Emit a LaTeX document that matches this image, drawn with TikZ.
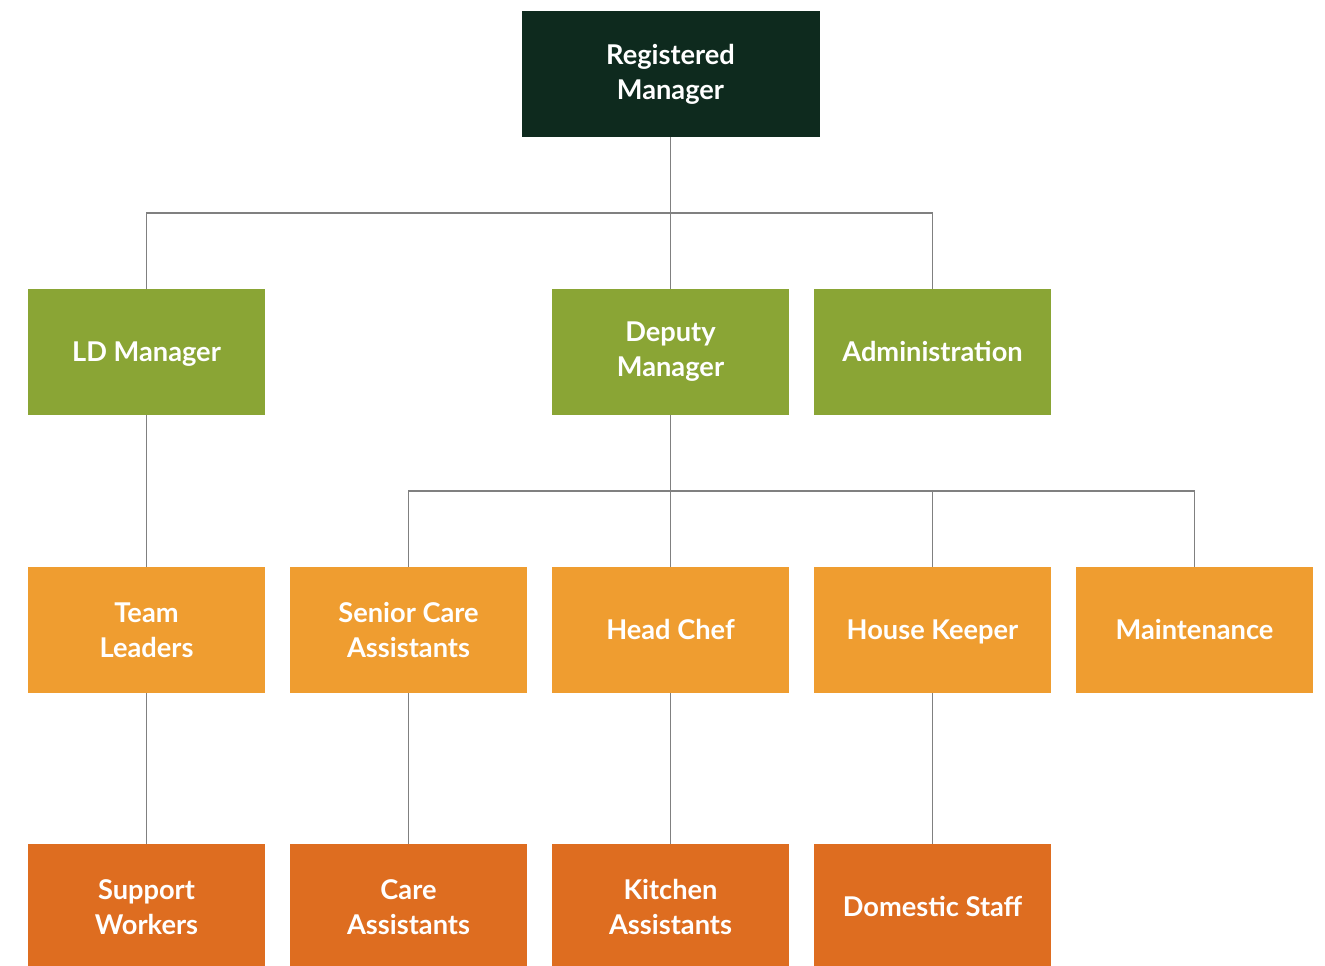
\documentclass[tikz,border=0pt]{standalone}
\usepackage{fontspec}
\setmainfont{Lato}
\usepackage{xcolor}
\usetikzlibrary{positioning, calc}
\definecolor{topgreen}{RGB}{14, 42, 30}
\definecolor{olive}{RGB}{138, 165, 53}
\definecolor{lightorange}{RGB}{239, 157, 48}
\definecolor{darkorange}{RGB}{222, 109, 32}
\definecolor{linkgray}{RGB}{128, 128, 128}

\tikzset{
    box/.style={minimum width=237*0.02cm, minimum height=126*0.02cm, inner sep=0pt,
        align=center, text=white, font=\bfseries\fontsize{15.5}{20}\selectfont},
    oneline/.style={text height=11.2pt, text depth=0pt},
    topbox/.style={box, fill=topgreen, minimum width=298*0.02cm},
    midbox/.style={box, fill=olive},
    staffbox/.style={box, fill=lightorange},
    lowbox/.style={box, fill=darkorange},
    link/.style={linkgray, line width=0.85pt}
}

\begin{document}
\begin{tikzpicture}[x=0.02cm, y=-0.02cm]
        \useasboundingbox (0,0) rectangle (1325,965);

        % top
        \node[topbox] (rm) at (670.5,74) {Registered\\Manager};

        % managers
        \node[midbox, oneline] (ld) at (146.5,352) {LD Manager};
        \node[midbox] (deputy) at (670.5,352) {Deputy\\Manager};
        \node[midbox, oneline] (admin) at (932.5,352) {Administration};

        % staff leads
        \node[staffbox] (teamlead) at (146.5,630) {Team\\Leaders};
        \node[staffbox] (senior) at (408.5,630) {Senior Care\\Assistants};
        \node[staffbox, oneline] (chef) at (670.5,630) {Head Chef};
        \node[staffbox, oneline] (house) at (932.5,630) {House Keeper};
        \node[staffbox, oneline] (maint) at (1194.5,630) {Maintenance};

        % staff
        \node[lowbox] (support) at (146.5,907) {Support\\Workers};
        \node[lowbox] (care) at (408.5,907) {Care\\Assistants};
        \node[lowbox] (kitchen) at (670.5,907) {Kitchen\\Assistants};
        \node[lowbox, oneline] (domestic) at (932.5,907) {Domestic Staff};

        % connectors
        \coordinate (bustop) at (670.5,213);
        \coordinate (busmid) at (670.5,491);
        \draw[link] (rm.south) -- (bustop);
        \draw[link] (ld.north) |- (bustop) -| (admin.north);
        \draw[link] (bustop) -- (deputy.north);

        \draw[link] (ld.south) -- (teamlead.north);
        \draw[link] (deputy.south) -- (busmid);
        \draw[link] (senior.north) |- (busmid) -| (maint.north);
        \draw[link] (busmid) -- (chef.north);
        \draw[link] (house.north) -- (house.north |- busmid);

        \draw[link] (teamlead.south) -- (support.north);
        \draw[link] (senior.south) -- (care.north);
        \draw[link] (chef.south) -- (kitchen.north);
        \draw[link] (house.south) -- (domestic.north);
    \end{tikzpicture}
\end{document}
